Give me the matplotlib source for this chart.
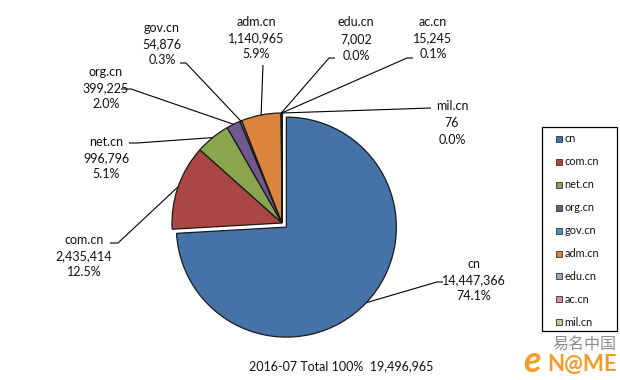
import matplotlib
matplotlib.use("Agg")
import matplotlib.pyplot as plt
from matplotlib.patches import Rectangle
import numpy as np

plt.rcParams['font.family'] = ['Lato', 'Noto Sans CJK SC', 'DejaVu Sans']

# ---------------- data ----------------
categories = ["cn", "com.cn", "net.cn", "org.cn", "gov.cn", "adm.cn", "edu.cn", "ac.cn", "mil.cn"]
values = [14447366, 2435414, 996796, 399225, 54876, 1140965, 7002, 15245, 76]
colors = ["#4572A7", "#AA4643", "#89A54E", "#71588F", "#4198AF",
          "#DB843D", "#93A9CF", "#D19392", "#B9CD96"]
title_text = "2016-07 Total 100%"

W, H = 620, 380
def py(y):  # pixel y (top-down) -> data y (bottom-up)
    return H - y

fig = plt.figure(figsize=(W / 100, H / 100), dpi=100)
ax = fig.add_axes([0, 0, 1, 1])

center = (282, py(223))
radius = 110
explode = [6] + [0] * (len(values) - 1)   # offset in data units (pixels)
wedges, _ = ax.pie(values, colors=colors, startangle=90, counterclock=False,
                   center=center, radius=radius, explode=explode, frame=True,
                   wedgeprops=dict(edgecolor="#1a1a1a", linewidth=0.9))
ax.set_xlim(0, W)
ax.set_ylim(0, H)
ax.set_aspect("equal")
ax.axis("off")

total = sum(values)

# label layout: text centre (px), leader end (px), elbow dx
label_layout = {
    "cn":     ((474, 280), (443, 282), -6),
    "com.cn": ((84, 256), (110, 243), 8),
    "net.cn": ((106, 158), (129, 143), 8),
    "org.cn": ((106, 88), (121, 89), 10),
    "gov.cn": ((162, 44), (180, 63), 6),
    "adm.cn": ((256, 38), (263, 65), 0),
    "edu.cn": ((356, 39), (335, 58), -6),
    "ac.cn":  ((433, 38), (413, 58), -6),
    "mil.cn": ((452, 123), (431, 108), 0),
}

for w, cat, val in zip(wedges, categories, values):
    mid = np.deg2rad((w.theta1 + w.theta2) / 2)
    cx, cy = w.center
    ex = cx + w.r * np.cos(mid)
    ey = cy + w.r * np.sin(mid)
    (tx, ty), (lx, ly), dx = label_layout[cat]
    pct = val / total * 100
    ax.text(tx, py(ty), f"{cat}\n{val:,}\n{pct:.1f}%", ha="center", va="center",
            fontsize=9, linespacing=1.45, color="#111111")
    xs = [ex, lx + dx, lx]
    ys = [ey, py(ly), py(ly)]
    if cat == "adm.cn":
        xs = [ex, lx]
        ys = [ey, py(ly)]
    ax.plot(xs, ys, color="black", lw=0.8, solid_capstyle="butt")

# legend box (drawn manually)
ax.add_patch(Rectangle((542, py(331)), 75, 204, facecolor="white",
                       edgecolor="black", lw=0.9))
for i, (cat, col) in enumerate(zip(categories, colors)):
    yy = 139 + i * 22.9
    ax.add_patch(Rectangle((556, py(yy) - 3), 6, 6, facecolor=col,
                           edgecolor="#333333", lw=0.6))
    ax.text(564.5, py(yy), cat, ha="left", va="center", fontsize=7.8, color="#111111")

# bottom caption
ax.text(341, py(366), f"{title_text}  {total:,}", ha="center", va="center",
        fontsize=9, color="#111111")

# logo
ax.text(584, py(344), "易名中国", ha="center", va="center", fontsize=11.5,
        color="#8c8c8c", family=["Noto Sans CJK SC", "DejaVu Sans"])
ax.text(532, py(361), "e", ha="center", va="center", fontsize=26,
        color="#F39C2B", fontweight="bold", style="italic")
ax.text(582, py(364), "N@ME", ha="center", va="center", fontsize=16,
        color="#F39C2B", fontweight="bold")

fig.savefig("out.png", dpi=100)
